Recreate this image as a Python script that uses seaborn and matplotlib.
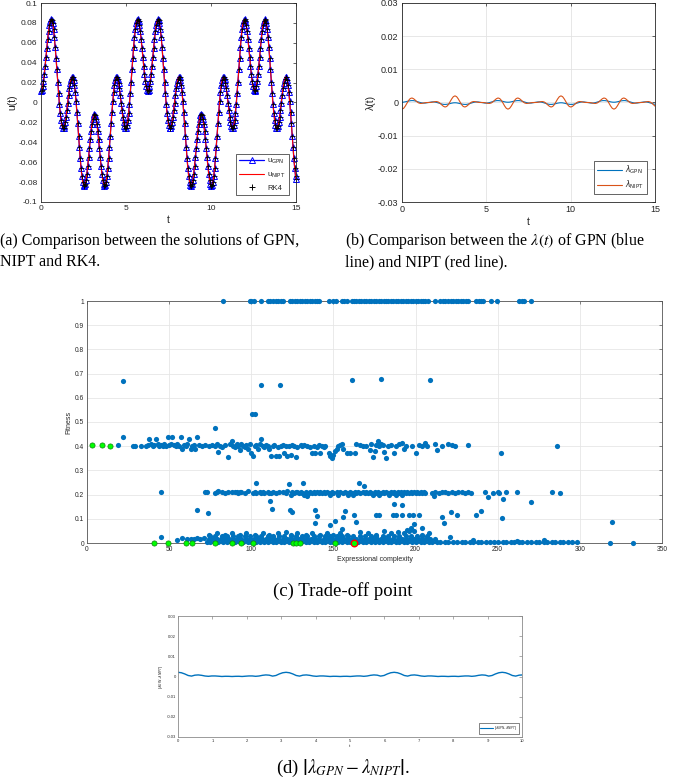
import numpy as np
import matplotlib
matplotlib.use("Agg")
import matplotlib.pyplot as plt
import seaborn as sns
from matplotlib.lines import Line2D

# ---------------- (a): solutions u(t), sampled where the markers sit ----------------
t_fine = [
    0.000, 0.049, 0.098, 0.147, 0.196, 0.245, 0.295, 0.344,
    0.393, 0.442, 0.491, 0.540, 0.589, 0.638, 0.687, 0.736,
    0.785, 0.834, 0.884, 0.933, 0.982, 1.031, 1.080, 1.129,
    1.178, 1.227, 1.276, 1.325, 1.374, 1.424, 1.473, 1.522,
    1.571, 1.620, 1.669, 1.718, 1.767, 1.816, 1.865, 1.914,
    1.963, 2.013, 2.062, 2.111, 2.160, 2.209, 2.258, 2.307,
    2.356, 2.405, 2.454, 2.503, 2.553, 2.602, 2.651, 2.700,
    2.749, 2.798, 2.847, 2.896, 2.945, 2.994, 3.043, 3.093,
    3.142, 3.191, 3.240, 3.289, 3.338, 3.387, 3.436, 3.485,
    3.534, 3.583, 3.632, 3.682, 3.731, 3.780, 3.829, 3.878,
    3.927, 3.976, 4.025, 4.074, 4.123, 4.172, 4.222, 4.271,
    4.320, 4.369, 4.418, 4.467, 4.516, 4.565, 4.614, 4.663,
    4.712, 4.761, 4.811, 4.860, 4.909, 4.958, 5.007, 5.056,
    5.105, 5.154, 5.203, 5.252, 5.301, 5.351, 5.400, 5.449,
    5.498, 5.547, 5.596, 5.645, 5.694, 5.743, 5.792, 5.841,
    5.890, 5.940, 5.989, 6.038, 6.087, 6.136, 6.185, 6.234,
    6.283, 6.332, 6.381, 6.431, 6.480, 6.529, 6.578, 6.627,
    6.676, 6.725, 6.774, 6.823, 6.872, 6.921, 6.970, 7.020,
    7.069, 7.118, 7.167, 7.216, 7.265, 7.314, 7.363, 7.412,
    7.461, 7.510, 7.560, 7.609, 7.658, 7.707, 7.756, 7.805,
    7.854, 7.903, 7.952, 8.001, 8.050, 8.099, 8.149, 8.198,
    8.247, 8.296, 8.345, 8.394, 8.443, 8.492, 8.541, 8.590,
    8.639, 8.688, 8.738, 8.787, 8.836, 8.885, 8.934, 8.983,
    9.032, 9.081, 9.130, 9.179, 9.228, 9.278, 9.327, 9.376,
    9.425, 9.474, 9.523, 9.572, 9.621, 9.670, 9.719, 9.768,
    9.817, 9.867, 9.916, 9.965, 10.014, 10.063, 10.112, 10.161,
    10.210, 10.259, 10.308, 10.357, 10.407, 10.456, 10.505, 10.554,
    10.603, 10.652, 10.701, 10.750, 10.799, 10.848, 10.897, 10.946,
    10.996, 11.045, 11.094, 11.143, 11.192, 11.241, 11.290, 11.339,
    11.388, 11.437, 11.486, 11.536, 11.585, 11.634, 11.683, 11.732,
    11.781, 11.830, 11.879, 11.928, 11.977, 12.026, 12.076, 12.125,
    12.174, 12.223, 12.272, 12.321, 12.370, 12.419, 12.468, 12.517,
    12.566, 12.615, 12.665, 12.714, 12.763, 12.812, 12.861, 12.910,
    12.959, 13.008, 13.057, 13.106, 13.155, 13.204, 13.254, 13.303,
    13.352, 13.401, 13.450, 13.499, 13.548, 13.597, 13.646, 13.695,
    13.744, 13.794, 13.843, 13.892, 13.941, 13.990, 14.039, 14.088,
    14.137, 14.186, 14.235, 14.284, 14.334, 14.383, 14.432, 14.481,
    14.530, 14.579, 14.628, 14.677, 14.726, 14.775, 14.824, 14.873,
    14.923, 14.972, 15.000,
]

u_gpn = [
    0.0115, 0.0127, 0.0161, 0.0215, 0.0286, 0.0370, 0.0460, 0.0552,
    0.0639, 0.0716, 0.0777, 0.0817, 0.0835, 0.0828, 0.0795, 0.0738,
    0.0658, 0.0561, 0.0450, 0.0332, 0.0211, 0.0095, -0.0012, -0.0104,
    -0.0177, -0.0227, -0.0254, -0.0257, -0.0237, -0.0197, -0.0141, -0.0073,
    0.0000, 0.0073, 0.0141, 0.0197, 0.0237, 0.0257, 0.0254, 0.0227,
    0.0177, 0.0104, 0.0012, -0.0095, -0.0211, -0.0332, -0.0450, -0.0561,
    -0.0658, -0.0738, -0.0795, -0.0828, -0.0835, -0.0817, -0.0777, -0.0716,
    -0.0639, -0.0552, -0.0460, -0.0370, -0.0286, -0.0215, -0.0161, -0.0127,
    -0.0115, -0.0127, -0.0161, -0.0215, -0.0286, -0.0370, -0.0460, -0.0552,
    -0.0639, -0.0716, -0.0777, -0.0817, -0.0835, -0.0828, -0.0795, -0.0738,
    -0.0658, -0.0561, -0.0450, -0.0332, -0.0211, -0.0095, 0.0012, 0.0104,
    0.0177, 0.0227, 0.0254, 0.0257, 0.0237, 0.0197, 0.0141, 0.0073,
    0.0000, -0.0073, -0.0141, -0.0197, -0.0237, -0.0257, -0.0254, -0.0227,
    -0.0177, -0.0104, -0.0012, 0.0095, 0.0211, 0.0332, 0.0450, 0.0561,
    0.0658, 0.0738, 0.0795, 0.0828, 0.0835, 0.0817, 0.0777, 0.0716,
    0.0639, 0.0552, 0.0460, 0.0370, 0.0286, 0.0215, 0.0161, 0.0127,
    0.0115, 0.0127, 0.0161, 0.0215, 0.0286, 0.0370, 0.0460, 0.0552,
    0.0639, 0.0716, 0.0777, 0.0817, 0.0835, 0.0828, 0.0795, 0.0738,
    0.0658, 0.0561, 0.0450, 0.0332, 0.0211, 0.0095, -0.0012, -0.0104,
    -0.0177, -0.0227, -0.0254, -0.0257, -0.0237, -0.0197, -0.0141, -0.0073,
    0.0000, 0.0073, 0.0141, 0.0197, 0.0237, 0.0257, 0.0254, 0.0227,
    0.0177, 0.0104, 0.0012, -0.0095, -0.0211, -0.0332, -0.0450, -0.0561,
    -0.0658, -0.0738, -0.0795, -0.0828, -0.0835, -0.0817, -0.0777, -0.0716,
    -0.0639, -0.0552, -0.0460, -0.0370, -0.0286, -0.0215, -0.0161, -0.0127,
    -0.0115, -0.0127, -0.0161, -0.0215, -0.0286, -0.0370, -0.0460, -0.0552,
    -0.0639, -0.0716, -0.0777, -0.0817, -0.0835, -0.0828, -0.0795, -0.0738,
    -0.0658, -0.0561, -0.0450, -0.0332, -0.0211, -0.0095, 0.0012, 0.0104,
    0.0177, 0.0227, 0.0254, 0.0257, 0.0237, 0.0197, 0.0141, 0.0073,
    0.0000, -0.0073, -0.0141, -0.0197, -0.0237, -0.0257, -0.0254, -0.0227,
    -0.0177, -0.0104, -0.0012, 0.0095, 0.0211, 0.0332, 0.0450, 0.0561,
    0.0658, 0.0738, 0.0795, 0.0828, 0.0835, 0.0817, 0.0777, 0.0716,
    0.0639, 0.0552, 0.0460, 0.0370, 0.0286, 0.0215, 0.0161, 0.0127,
    0.0115, 0.0127, 0.0161, 0.0215, 0.0286, 0.0370, 0.0460, 0.0552,
    0.0639, 0.0716, 0.0777, 0.0817, 0.0835, 0.0828, 0.0795, 0.0738,
    0.0658, 0.0561, 0.0450, 0.0332, 0.0211, 0.0095, -0.0012, -0.0104,
    -0.0177, -0.0227, -0.0254, -0.0257, -0.0237, -0.0197, -0.0141, -0.0073,
    0.0000, 0.0073, 0.0141, 0.0197, 0.0237, 0.0257, 0.0254, 0.0227,
    0.0177, 0.0104, 0.0012, -0.0095, -0.0211, -0.0332, -0.0450, -0.0561,
    -0.0658, -0.0738, -0.0770,
]
# NIPT and RK4 solutions sit exactly on the GPN curve
u_nipt = u_gpn
u_rk4 = u_gpn

# ---------------- (b): lambda(t) curves ----------------
t_vals = [
    0.000, 0.098, 0.196, 0.295, 0.393, 0.491, 0.589, 0.687,
    0.785, 0.884, 0.982, 1.080, 1.178, 1.276, 1.374, 1.473,
    1.571, 1.669, 1.767, 1.865, 1.963, 2.062, 2.160, 2.258,
    2.356, 2.454, 2.553, 2.651, 2.749, 2.847, 2.945, 3.043,
    3.142, 3.240, 3.338, 3.436, 3.534, 3.632, 3.731, 3.829,
    3.927, 4.025, 4.123, 4.222, 4.320, 4.418, 4.516, 4.614,
    4.712, 4.811, 4.909, 5.007, 5.105, 5.203, 5.301, 5.400,
    5.498, 5.596, 5.694, 5.792, 5.890, 5.989, 6.087, 6.185,
    6.283, 6.381, 6.480, 6.578, 6.676, 6.774, 6.872, 6.970,
    7.069, 7.167, 7.265, 7.363, 7.461, 7.560, 7.658, 7.756,
    7.854, 7.952, 8.050, 8.149, 8.247, 8.345, 8.443, 8.541,
    8.639, 8.738, 8.836, 8.934, 9.032, 9.130, 9.228, 9.327,
    9.425, 9.523, 9.621, 9.719, 9.817, 9.916, 10.014, 10.112,
    10.210, 10.308, 10.407, 10.505, 10.603, 10.701, 10.799, 10.897,
    10.996, 11.094, 11.192, 11.290, 11.388, 11.486, 11.585, 11.683,
    11.781, 11.879, 11.977, 12.076, 12.174, 12.272, 12.370, 12.468,
    12.566, 12.665, 12.763, 12.861, 12.959, 13.057, 13.155, 13.254,
    13.352, 13.450, 13.548, 13.646, 13.744, 13.843, 13.941, 14.039,
    14.137, 14.235, 14.334, 14.432, 14.530, 14.628, 14.726, 14.824,
    14.923, 15.000,
]

lam_nipt = [
    -0.00200, -0.00175, -0.00107, -0.00018, 0.00065, 0.00120, 0.00136, 0.00114,
    0.00071, 0.00023, -0.00012, -0.00028, -0.00027, -0.00017, -0.00006, -0.00001,
    0.00000, 0.00001, 0.00006, 0.00017, 0.00027, 0.00028, 0.00012, -0.00023,
    -0.00071, -0.00114, -0.00136, -0.00120, -0.00065, 0.00018, 0.00107, 0.00175,
    0.00200, 0.00175, 0.00107, 0.00018, -0.00065, -0.00120, -0.00136, -0.00114,
    -0.00071, -0.00023, 0.00012, 0.00028, 0.00027, 0.00017, 0.00006, 0.00001,
    0.00000, -0.00001, -0.00006, -0.00017, -0.00027, -0.00028, -0.00012, 0.00023,
    0.00071, 0.00114, 0.00136, 0.00120, 0.00065, -0.00018, -0.00107, -0.00175,
    -0.00200, -0.00175, -0.00107, -0.00018, 0.00065, 0.00120, 0.00136, 0.00114,
    0.00071, 0.00023, -0.00012, -0.00028, -0.00027, -0.00017, -0.00006, -0.00001,
    0.00000, 0.00001, 0.00006, 0.00017, 0.00027, 0.00028, 0.00012, -0.00023,
    -0.00071, -0.00114, -0.00136, -0.00120, -0.00065, 0.00018, 0.00107, 0.00175,
    0.00200, 0.00175, 0.00107, 0.00018, -0.00065, -0.00120, -0.00136, -0.00114,
    -0.00071, -0.00023, 0.00012, 0.00028, 0.00027, 0.00017, 0.00006, 0.00001,
    0.00000, -0.00001, -0.00006, -0.00017, -0.00027, -0.00028, -0.00012, 0.00023,
    0.00071, 0.00114, 0.00136, 0.00120, 0.00065, -0.00018, -0.00107, -0.00175,
    -0.00200, -0.00175, -0.00107, -0.00018, 0.00065, 0.00120, 0.00136, 0.00114,
    0.00071, 0.00023, -0.00012, -0.00028, -0.00027, -0.00017, -0.00006, -0.00001,
    0.00000, 0.00001, 0.00006, 0.00017, 0.00027, 0.00028, 0.00012, -0.00023,
    -0.00071, -0.00110,
]

lam_gpn = [
    0.00008, 0.00011, 0.00020, 0.00032, 0.00045, 0.00054, 0.00058, 0.00056,
    0.00046, 0.00032, 0.00015, -0.00001, -0.00012, -0.00018, -0.00017, -0.00010,
    0.00000, 0.00010, 0.00017, 0.00018, 0.00012, 0.00001, -0.00015, -0.00032,
    -0.00046, -0.00056, -0.00058, -0.00054, -0.00045, -0.00032, -0.00020, -0.00011,
    -0.00008, -0.00011, -0.00020, -0.00032, -0.00045, -0.00054, -0.00058, -0.00056,
    -0.00046, -0.00032, -0.00015, 0.00001, 0.00012, 0.00018, 0.00017, 0.00010,
    0.00000, -0.00010, -0.00017, -0.00018, -0.00012, -0.00001, 0.00015, 0.00032,
    0.00046, 0.00056, 0.00058, 0.00054, 0.00045, 0.00032, 0.00020, 0.00011,
    0.00008, 0.00011, 0.00020, 0.00032, 0.00045, 0.00054, 0.00058, 0.00056,
    0.00046, 0.00032, 0.00015, -0.00001, -0.00012, -0.00018, -0.00017, -0.00010,
    0.00000, 0.00010, 0.00017, 0.00018, 0.00012, 0.00001, -0.00015, -0.00032,
    -0.00046, -0.00056, -0.00058, -0.00054, -0.00045, -0.00032, -0.00020, -0.00011,
    -0.00008, -0.00011, -0.00020, -0.00032, -0.00045, -0.00054, -0.00058, -0.00056,
    -0.00046, -0.00032, -0.00015, 0.00001, 0.00012, 0.00018, 0.00017, 0.00010,
    0.00000, -0.00010, -0.00017, -0.00018, -0.00012, -0.00001, 0.00015, 0.00032,
    0.00046, 0.00056, 0.00058, 0.00054, 0.00045, 0.00032, 0.00020, 0.00011,
    0.00008, 0.00011, 0.00020, 0.00032, 0.00045, 0.00054, 0.00058, 0.00056,
    0.00046, 0.00032, 0.00015, -0.00001, -0.00012, -0.00018, -0.00017, -0.00010,
    0.00000, 0.00010, 0.00017, 0.00018, 0.00012, 0.00001, -0.00015, -0.00032,
    -0.00046, -0.00054,
]

# ---------------- (c): fitness vs expressional complexity ----------------
# models sitting at fitness = 1
fit_one_x = [83, 99, 100, 101.5, 106, 110, 111.5, 113, 115, 116.5, 118, 119.5,
             123.5, 125, 126.5, 128, 129.5, 131, 132.5, 134, 135.5, 137, 138.5,
             140, 141.5, 147, 150, 151.5, 155, 156.5, 158, 161, 162.5, 164,
             165.5, 167, 168.5, 170, 171.5, 173, 174.5, 176, 177.5, 179, 180.5,
             182, 183.5, 185, 186.5, 188, 189.5, 191, 192.5, 194, 195.5, 197,
             198.5, 200, 201.5, 203, 204.5, 206, 207.5, 212, 215, 216.5, 218,
             220, 221.5, 223, 224.5, 226, 227.5, 229, 230.5, 232, 237, 238.5,
             240, 241, 246, 249.5, 263, 264.5, 266, 270]

band_040 = [(19, 0.405), (28, 0.40), (29.5, 0.40), (33, 0.40), (36, 0.40), (37, 0.405),
            (38, 0.43), (39, 0.41), (40, 0.40), (41, 0.405), (42, 0.43), (43, 0.41),
            (44, 0.40), (45, 0.405), (46, 0.40), (47, 0.41), (48, 0.40), (49, 0.44),
            (50, 0.405), (51, 0.41), (52, 0.44), (53, 0.405), (54, 0.40), (55, 0.41),
            (56, 0.40), (57, 0.44), (58, 0.39), (59, 0.405), (60, 0.40), (61, 0.41),
            (62, 0.43), (63, 0.39), (64, 0.40), (65, 0.405), (66, 0.39), (67, 0.44),
            (68, 0.405), (70, 0.40), (72, 0.405), (74, 0.40), (76, 0.405), (78, 0.40),
            (79, 0.41), (80, 0.375), (81, 0.40), (82, 0.395), (84, 0.405), (86, 0.355),
            (87, 0.41), (88, 0.42), (89, 0.40), (90, 0.395), (91, 0.41), (92, 0.40),
            (93, 0.385), (94, 0.41), (95, 0.40), (96, 0.395), (97, 0.405), (98, 0.39),
            (99, 0.41), (100, 0.37), (101, 0.36), (102, 0.40), (103, 0.405), (104, 0.39),
            (105, 0.41), (106, 0.43), (107, 0.40), (108, 0.395), (109, 0.405), (110, 0.40),
            (111, 0.39), (112, 0.36), (113, 0.40), (114, 0.405), (115, 0.36), (116, 0.395),
            (117, 0.36), (118, 0.40), (119, 0.405), (120, 0.37), (121, 0.40), (122, 0.36),
            (123, 0.40), (124, 0.365), (125, 0.405), (126, 0.40), (127, 0.355), (128, 0.395),
            (130, 0.405), (131, 0.40), (132, 0.405), (134, 0.40), (136, 0.395), (137, 0.37),
            (138, 0.40), (139, 0.37), (140, 0.395), (141, 0.405), (142, 0.37), (143, 0.40),
            (144, 0.395), (145, 0.40), (147, 0.37), (148, 0.36), (149, 0.35), (150, 0.365),
            (151, 0.38), (152, 0.39), (153, 0.40), (154, 0.405), (155, 0.41), (156, 0.39),
            (158, 0.37), (160, 0.37), (163, 0.37), (164, 0.41), (166, 0.405), (168, 0.40),
            (170, 0.40), (172, 0.385), (173, 0.41), (174, 0.355), (175, 0.38), (176, 0.405),
            (177, 0.42), (178, 0.40), (179, 0.41), (180, 0.405), (181, 0.375), (182, 0.35),
            (183, 0.40), (185, 0.405), (187, 0.37), (188, 0.40), (190, 0.41), (192, 0.415),
            (193, 0.39), (194, 0.40), (198, 0.40), (200, 0.37), (202, 0.405), (204, 0.40),
            (206, 0.415), (207, 0.40), (212, 0.41), (213, 0.385), (216, 0.40), (220, 0.41),
            (222, 0.405), (224, 0.40), (232, 0.405), (252, 0.37), (286, 0.40)]

band_021 = [(72, 0.21), (73, 0.21), (78, 0.205), (79, 0.21), (80, 0.215), (82, 0.21),
            (84, 0.205), (86, 0.21), (88, 0.21), (90, 0.21), (91, 0.21), (92, 0.205),
            (93, 0.21), (94, 0.21), (96, 0.205), (98, 0.215), (101, 0.205), (102, 0.21),
            (103, 0.205), (105, 0.21), (106, 0.205), (107, 0.21), (108, 0.205), (110, 0.21),
            (111, 0.205), (112, 0.205), (113, 0.21), (115, 0.205), (117, 0.21), (119, 0.21),
            (121, 0.205), (122, 0.215), (124, 0.20), (125, 0.21), (126, 0.205), (127, 0.21),
            (128, 0.21), (129, 0.205), (130, 0.21), (131, 0.205), (132, 0.20), (133, 0.21),
            (134, 0.195), (135, 0.205), (136, 0.21), (137, 0.205), (138, 0.21), (139, 0.205),
            (140, 0.21), (141, 0.205), (142, 0.21), (143, 0.205), (144, 0.21), (145, 0.205),
            (146, 0.21), (147, 0.205), (148, 0.20), (149, 0.21), (150, 0.205), (152, 0.21),
            (153, 0.20), (154, 0.21), (156, 0.205), (157, 0.21), (158, 0.205), (159, 0.20),
            (160, 0.21), (161, 0.205), (162, 0.20), (163, 0.21), (164, 0.205), (165, 0.21),
            (166, 0.205), (168, 0.21), (169, 0.205), (170, 0.21), (171, 0.205), (172, 0.21),
            (173, 0.205), (174, 0.20), (175, 0.21), (176, 0.205), (177, 0.21), (178, 0.20),
            (179, 0.205), (180, 0.21), (181, 0.205), (182, 0.21), (183, 0.205), (184, 0.20),
            (185, 0.21), (186, 0.205), (187, 0.21), (188, 0.20), (189, 0.21), (190, 0.205),
            (191, 0.21), (192, 0.20), (193, 0.21), (194, 0.205), (195, 0.21), (196, 0.205),
            (197, 0.21), (198, 0.205), (199, 0.21), (200, 0.205), (201, 0.21), (202, 0.205),
            (203, 0.21), (204, 0.205), (205, 0.21), (206, 0.205), (210, 0.205), (211, 0.195),
            (212, 0.21), (214, 0.205), (216, 0.21), (218, 0.21), (220, 0.205), (222, 0.21),
            (224, 0.205), (226, 0.21), (228, 0.21), (230, 0.205), (232, 0.21), (234, 0.205),
            (242, 0.21), (244, 0.19), (247, 0.205), (250, 0.21), (251, 0.205), (253, 0.182),
            (255, 0.21), (261.5, 0.21), (270, 0.168), (283, 0.21), (288, 0.205)]

# the crowded strip just above fitness 0, one row of complexities per fitness level
low_rows = {
    0.004: [73, 75, 78, 80, 83, 85, 88, 90, 93, 95, 98, 100, 103, 105, 108, 110, 113,
            115, 118, 120, 123, 125, 128, 130, 133, 135, 138, 140, 143, 145, 148, 150,
            153, 155, 158, 160, 163, 165, 168, 170, 173, 175, 178, 180, 183, 185, 188,
            190, 193, 195, 198, 200, 203, 205, 208, 210, 213, 215, 218, 220, 223, 225,
            228, 230, 233, 235, 238, 240, 243, 245, 248, 250, 253, 255, 258, 260, 263,
            265, 268, 270, 273, 275, 278, 280, 283, 285, 288, 290, 293, 295, 298],
    0.016: [74, 76.5, 79, 81.5, 84, 86.5, 89, 91.5, 94, 96.5, 99, 101.5, 104, 106.5,
            109, 111.5, 114, 116.5, 119, 121.5, 124, 126.5, 129, 131.5, 134, 136.5, 139,
            141.5, 144, 146.5, 149, 151.5, 154, 156.5, 159, 161.5, 164, 166.5, 169,
            171.5, 174, 176.5, 179, 181.5, 184, 186.5, 189, 191.5, 194, 196.5, 199,
            201.5, 204, 206.5, 209, 212],
    0.028: [75, 78, 82, 85, 89, 92, 96, 99, 103, 106, 110, 113, 117, 120, 124, 127,
            131, 134, 138, 141, 145, 148, 152, 155, 159, 162, 166, 169, 173, 176, 180,
            183, 187, 190, 194, 197, 201, 204, 207],
}
low_spikes = [(58, 0.02), (61, 0.018), (63, 0.015), (65, 0.018), (67, 0.02), (69, 0.016),
              (71, 0.02), (74, 0.035), (79, 0.04), (84, 0.035), (88, 0.04), (93, 0.035),
              (97, 0.04), (102, 0.035), (107, 0.04), (111, 0.035), (116, 0.04), (121, 0.045),
              (124, 0.035), (128, 0.04), (133, 0.035), (137, 0.04), (142, 0.035), (146, 0.04),
              (150, 0.035), (154, 0.04), (158, 0.035), (166, 0.045), (171, 0.04), (176, 0.035),
              (181, 0.05), (185, 0.04), (189, 0.045), (193, 0.04), (195, 0.055), (197, 0.06),
              (199, 0.05), (204, 0.035), (221, 0.025), (235, 0.012), (262, 0.01), (278, 0.012)]

scatter_other = [(21.9, 0.670), (21.9, 0.438), (105.9, 0.652), (117.6, 0.652), (161.5, 0.673),
                 (178.9, 0.677), (208.9, 0.673), (100.5, 0.533), (102.0, 0.533), (77.7, 0.474),
                 (45.0, 0.209), (45.0, 0.025), (55.0, 0.011), (66.8, 0.135), (73.7, 0.126),
                 (102.6, 0.249), (111.5, 0.172), (112.8, 0.141), (122.9, 0.245), (123.4, 0.135),
                 (124.5, 0.128), (131.6, 0.249), (139.0, 0.135), (140.0, 0.113), (139.0, 0.082),
                 (147.8, 0.076), (151.0, 0.090), (155.9, 0.107), (157.3, 0.133), (162.6, 0.117),
                 (163.6, 0.088), (165.6, 0.249), (168.4, 0.235), (176.0, 0.117), (177.5, 0.117),
                 (155.5, 0.059), (187.0, 0.163), (192.0, 0.155), (186.0, 0.117), (188.0, 0.117),
                 (192.0, 0.117), (196.0, 0.117), (198.4, 0.117), (202.0, 0.117), (216.0, 0.107),
                 (217.0, 0.082), (221.7, 0.127), (225.5, 0.115), (236.8, 0.115), (239.7, 0.134),
                 (252.8, 0.104), (319.6, 0.088), (198.8, 0.080), (203.8, 0.063), (196.0, 0.050),
                 (207.9, 0.040), (318.6, 0.0), (332.4, 0.0)]

# Pareto front (green) and the chosen trade-off point (red ring)
front_x = [3, 9, 14, 41, 49, 60, 64, 78, 88, 94, 101, 125.5, 127, 129.5, 151]
front_y = [0.405, 0.405, 0.40, 0, 0, 0, 0, 0, 0, 0, 0, 0, 0, 0, 0]
trade_off_x = [162.5]
trade_off_y = [0.0]

# ---------------- styling ----------------
sns.set_theme(style="white")
plt.rcParams["font.family"] = ["Liberation Sans", "DejaVu Sans"]
plt.rcParams["axes.unicode_minus"] = False

W, H = 685, 782
fig = plt.figure(figsize=(W / 100, H / 100), dpi=100)
fig.patch.set_facecolor("white")


def box(l, t, r, b):
    return [l / W, 1 - b / H, (r - l) / W, (b - t) / H]


def matlab_axes(ax, fs, edge, tick_len, pad):
    for sp in ax.spines.values():
        sp.set_color(edge)
        sp.set_linewidth(0.6)
    ax.tick_params(which="both", direction="in", top=True, right=True,
                   length=tick_len, width=0.5, color=edge, labelsize=fs,
                   labelcolor="#262626", pad=pad)
    ax.set_facecolor("white")


def fmt(vals):
    return [f"{round(v, 4) + 0.0:g}" for v in vals]


ax_a = fig.add_axes(box(41, 3, 296, 202))
ax_b = fig.add_axes(box(402, 3, 655, 202))
ax_c = fig.add_axes(box(87, 301, 662, 543))
ax_d = fig.add_axes(box(178, 616, 522, 737))

# ---- (a) ----
sns.lineplot(x=t_fine, y=u_gpn, ax=ax_a, color="#0000FF", lw=0.9, marker="^",
             markersize=3.8, markerfacecolor="none", markeredgecolor="#0000FF",
             markeredgewidth=0.7, estimator=None, sort=False, clip_on=False)
sns.lineplot(x=t_fine, y=u_nipt, ax=ax_a, color="#FF0000", lw=0.8,
             estimator=None, sort=False)
sns.lineplot(x=t_fine, y=u_rk4, ax=ax_a, color="black", linestyle="", marker="+",
             markersize=3.6, markeredgecolor="black", markeredgewidth=0.6,
             estimator=None, sort=False, clip_on=False)
ax_a.set_xlim(0, 15)
ax_a.set_ylim(-0.1, 0.1)
yt = np.arange(-0.1, 0.1001, 0.02)
ax_a.set_yticks(yt)
ax_a.set_yticklabels(fmt(yt))
ax_a.set_xticks([0, 5, 10, 15])
matlab_axes(ax_a, 6.0, "#262626", 2.5, 2.5)
ax_a.set_xlabel("t", fontsize=7.5, labelpad=1.5, color="#262626")
ax_a.set_ylabel("u(t)", fontsize=7.5, labelpad=1.0, color="#262626")
h_a = [Line2D([], [], color="#0000FF", lw=0.9, marker="^", markersize=3.8,
              markerfacecolor="none", markeredgecolor="#0000FF", markeredgewidth=0.7),
       Line2D([], [], color="#FF0000", lw=0.8),
       Line2D([], [], color="black", linestyle="", marker="+", markersize=4,
              markeredgewidth=0.7)]
leg = ax_a.legend(h_a, [r"u$_{\mathrm{GPN}}$", r"u$_{\mathrm{NIPT}}$", "RK4"],
                  loc="lower right", fontsize=5.5, handlelength=3.3,
                  handletextpad=0.4, labelspacing=0.55, borderpad=0.45,
                  borderaxespad=0.9, fancybox=False, framealpha=1)
leg.get_frame().set_edgecolor("#262626")
leg.get_frame().set_linewidth(0.5)

# ---- (b) ----
sns.lineplot(x=t_vals, y=lam_gpn, ax=ax_b, color="#0072BD", lw=0.8,
             estimator=None, sort=False)
sns.lineplot(x=t_vals, y=lam_nipt, ax=ax_b, color="#D95319", lw=0.8,
             estimator=None, sort=False)
ax_b.set_xlim(0, 15)
ax_b.set_ylim(-0.03, 0.03)
yt = np.arange(-0.03, 0.0301, 0.01)
ax_b.set_yticks(yt)
ax_b.set_yticklabels(fmt(yt))
ax_b.set_xticks([0, 5, 10, 15])
ax_b.grid(True, color="#E3E3E3", lw=0.6)
matlab_axes(ax_b, 6.5, "#262626", 2.5, 2.5)
ax_b.set_xlabel("t", fontsize=7.5, labelpad=1.5, color="#262626")
ax_b.set_ylabel("λ(t)", fontsize=7.5, labelpad=1.5, color="#262626")
h_b = [Line2D([], [], color="#0072BD", lw=0.8), Line2D([], [], color="#D95319", lw=0.8)]
leg = ax_b.legend(h_b, [r"$\lambda_{\mathrm{GPN}}$", r"$\lambda_{\mathrm{NIPT}}$"],
                  loc="lower right", fontsize=5.5, handlelength=3.3,
                  handletextpad=0.4, labelspacing=0.3, borderpad=0.35,
                  borderaxespad=1.1, fancybox=False, framealpha=1)
leg.get_frame().set_edgecolor("#262626")
leg.get_frame().set_linewidth(0.5)

# ---- (c) ----
blue = "#0072BD"
xs, ys = [], []
xs += fit_one_x
ys += [1.0] * len(fit_one_x)
for group in (band_040, band_021, low_spikes, scatter_other):
    xs += [p[0] for p in group]
    ys += [p[1] for p in group]
for level, row in low_rows.items():
    xs += row
    ys += [level] * len(row)
sns.scatterplot(x=xs, y=ys, ax=ax_c, color=blue, s=14, linewidth=0,
                clip_on=False, zorder=3)
sns.scatterplot(x=front_x, y=front_y, ax=ax_c, color="#00FF00", s=14,
                edgecolor="#108010", linewidth=0.5, clip_on=False, zorder=4)
sns.scatterplot(x=trade_off_x, y=trade_off_y, ax=ax_c, color="#00FF00", s=22,
                edgecolor="#FF0000", linewidth=1.0, clip_on=False, zorder=5)
ax_c.set_xlim(0, 350)
ax_c.set_ylim(0, 1)
ax_c.set_xticks(range(0, 351, 50))
yt = np.arange(0, 1.001, 0.1)
ax_c.set_yticks(yt)
ax_c.set_yticklabels(fmt(yt))
ax_c.grid(True, color="#E6E6E6", lw=0.6)
ax_c.set_axisbelow(True)
matlab_axes(ax_c, 4.8, "#555555", 2.5, 2.0)
ax_c.set_xlabel("Expressional complexity", fontsize=5, labelpad=2, color="#262626")
ax_c.set_ylabel("Fitness", fontsize=5, labelpad=2, color="#262626")

# ---- (d) ----
t_arr = np.array(t_vals)
diff = np.abs(np.array(lam_gpn) - np.array(lam_nipt))
keep = t_arr <= 10.1
sns.lineplot(x=t_arr[keep], y=diff[keep], ax=ax_d, color="#0072BD", lw=1.0,
             estimator=None, sort=False)
ax_d.set_xlim(0, 10)
ax_d.set_ylim(-0.03, 0.03)
ax_d.set_xticks(range(0, 11))
yt = np.arange(-0.03, 0.0301, 0.01)
ax_d.set_yticks(yt)
ax_d.set_yticklabels(fmt(yt))
matlab_axes(ax_d, 3.0, "#8A8A8A", 2.0, 1.5)
ax_d.set_xlabel("t", fontsize=3.2, labelpad=1, color="#262626")
ax_d.set_ylabel(r"|$\lambda_{GPN}$-$\lambda_{NIPT}$|", fontsize=3.2, labelpad=1,
                color="#262626")
leg = ax_d.legend([Line2D([], [], color="#0072BD", lw=0.8)],
                  [r"|$\lambda_{GPN}$-$\lambda_{NIPT}$|"], loc="lower right",
                  fontsize=3.0, handlelength=3.0, handletextpad=0.4, borderpad=0.3,
                  borderaxespad=0.8, fancybox=False, framealpha=1)
leg.get_frame().set_edgecolor("#262626")
leg.get_frame().set_linewidth(0.4)

# ---- captions ----
serif = ["Liberation Serif", "DejaVu Serif"]
cap_ab = dict(family=serif, fontsize=11.5, color="black", math_fontfamily="stix")
cap_cd = dict(family=serif, fontsize=13.5, color="black", math_fontfamily="stix")
fig.text(0 / W, 1 - 241 / H, "(a) Comparison between the solutions of GPN,", va="center", **cap_ab)
fig.text(0 / W, 1 - 262 / H, "NIPT and RK4.", va="center", **cap_ab)
fig.text(345 / W, 1 - 241 / H, r"(b) Comparison between the $\lambda(t)$ of GPN (blue",
         va="center", **cap_ab)
fig.text(345 / W, 1 - 262 / H, "line) and NIPT (red line).", va="center", **cap_ab)
fig.text(343 / W, 1 - 591 / H, "(c) Trade-off point", va="center", ha="center", **cap_cd)
fig.text(343 / W, 1 - 768 / H, r"(d) $\left|\lambda_{GPN}-\lambda_{NIPT}\right|$.",
         va="center", ha="center", **cap_cd)

fig.savefig("out.png", dpi=100)
